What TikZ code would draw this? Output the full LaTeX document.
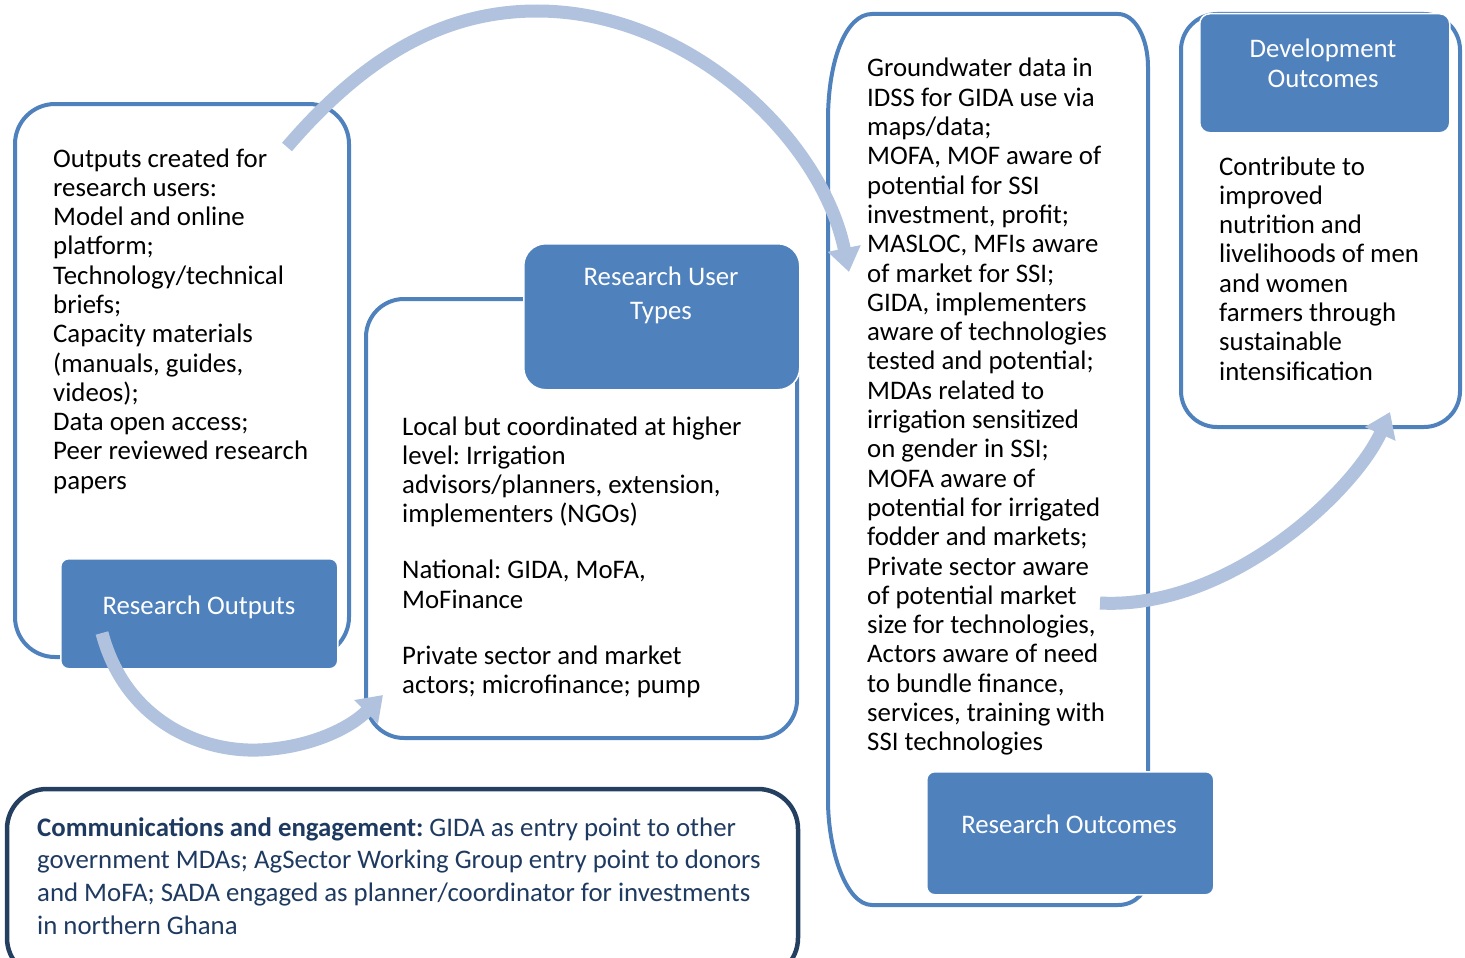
\documentclass[tikz,border=0pt]{standalone}
\usepackage{fontspec}
\setmainfont{Carlito}
\usetikzlibrary{arrows.meta}
\definecolor{boxblue}{HTML}{4F81BD}
\definecolor{arrowblue}{HTML}{B0C2DE}
\definecolor{navyline}{HTML}{243F60}
\definecolor{navytext}{HTML}{1F3A60}
\frenchspacing
\tikzset{
  outline/.style={draw=boxblue, line width=4pt},
  hdrbox/.style={fill=boxblue, draw=white, line width=1.5pt, rounded corners=8pt, inner sep=0pt, anchor=north west},
  flow/.style={draw=arrowblue, line width=13pt, -{Triangle[width=32pt,length=24pt]}},
  body/.style={anchor=base west, inner sep=0pt, font=\fontsize{26.8}{29.3}\selectfont},
  hdrtext/.style={anchor=base, inner sep=0pt, text=white, font=\fontsize{26.8}{29.3}\selectfont}
}
\begin{document}
\begin{tikzpicture}[x=1pt,y=-1pt]
\useasboundingbox (0,0) rectangle (1465,958);
\clip (0,0) rectangle (1465,958);

% outlines
\draw[outline, rounded corners=40pt] (15,104) rectangle (349,657);
\draw[outline, rounded corners=38pt] (366,299) rectangle (797,738);
\draw[outline, rounded corners=36pt] (1181,14) rectangle (1460,427);
\draw[outline] (828,120) .. controls (828,60) and (846,14) .. (872,14)
  -- (1118,14) .. controls (1135,14) and (1148,38) .. (1148,67)
  -- (1148,875) .. controls (1148,892) and (1135,905) .. (1118,905)
  -- (872,905) .. controls (846,905) and (828,850) .. (828,800) -- cycle;
\draw[draw=navyline, line width=4.5pt, rounded corners=40pt] (7,789) rectangle (798,978);

% header boxes
\node[hdrbox, minimum width=277pt, minimum height=110pt] (hOut) at (60,558) {};
\node[hdrbox, rounded corners=22pt, minimum width=276pt, minimum height=146pt] (hUsers) at (523,243) {};
\node[hdrbox, rounded corners=10pt, minimum width=250pt, minimum height=119pt] (hDev) at (1199,13) {};
\node[hdrbox, minimum width=287pt, minimum height=123pt] (hOcm) at (926,771) {};

% header texts
\node[hdrtext] (tOut) at (199,614) {Research Outputs};
\node[hdrtext] (tUsers) at (661,285) {\parbox[t]{270pt}{\centering\fontsize{26.8}{34}\selectfont Research User\\Types}};
\node[hdrtext] (tDev) at (1323,58) {\parbox[t]{245pt}{\centering Development\\Outcomes}};
\node[hdrtext] (tOcm) at (1069,833) {Research Outcomes};

% body texts
\node[body] (bOut) at (53,167) {\parbox[t]{320pt}{\raggedright Outputs created for\\ research users:\\ Model and online\\ platform;\\ Technology/technical\\ briefs;\\ Capacity materials\\ (manuals, guides,\\ videos);\\ Data open access;\\ Peer reviewed research\\ papers}};

\node[body] (bUsers) at (402,435) {\parbox[t]{390pt}{\raggedright Local but coordinated at higher\\ level: Irrigation\\ advisors/planners, extension,\\ implementers (NGOs)\\[26.7pt] National: GIDA, MoFA,\\ MoFinance\\[26.7pt] Private sector and market\\ actors; microfinance; pump}};

\node[body] (bOcm) at (867,77) {\parbox[t]{290pt}{\raggedright Groundwater data in\\ IDSS for GIDA use via\\ maps/data;\\ MOFA, MOF aware of\\ potential for SSI\\ investment, profit;\\ MASLOC, MFIs aware\\ of market for SSI;\\ GIDA, implementers\\ aware of technologies\\ tested and potential;\\ MDAs related to\\ irrigation sensitized\\ on gender in SSI;\\ MOFA aware of\\ potential for irrigated\\ fodder and markets;\\ Private sector aware\\ of potential market\\ size for technologies,\\ Actors aware of need\\ to bundle finance,\\ services, training with\\ SSI technologies}};

\node[body] (bDev) at (1219,175) {\parbox[t]{240pt}{\raggedright Contribute to\\ improved\\ nutrition and\\ livelihoods of men\\ and women\\ farmers through\\ sustainable\\ intensification}};

\node[body, text=navytext] (bComm) at (37,836) {\parbox[t]{780pt}{\raggedright\fontsize{26.8}{32.7}\selectfont \textbf{Communications and engagement:} GIDA as entry point to other\\ government MDAs; AgSector Working Group entry point to donors\\ and MoFA; SADA engaged as planner/coordinator for investments\\ in northern Ghana}};

% arrows
\coordinate (aS) at (102,633);
\coordinate (aE) at (383,695);
\coordinate (bS) at (287,147);
\coordinate (bE) at (849,272);
\coordinate (cS) at (1100,603);
\coordinate (cE) at (1390,412);
\draw[flow] (aS) .. controls (125,720) and (200,752) .. (258,750) .. controls (310,748) and (350,728) .. (aE);
\draw[flow] (bS) .. controls (370,50) and (450,11) .. (537,11) .. controls (690,11) and (822,140) .. (bE);
\draw[flow] (cS) .. controls (1230,610) and (1355,490) .. (cE);
\end{tikzpicture}
\end{document}
